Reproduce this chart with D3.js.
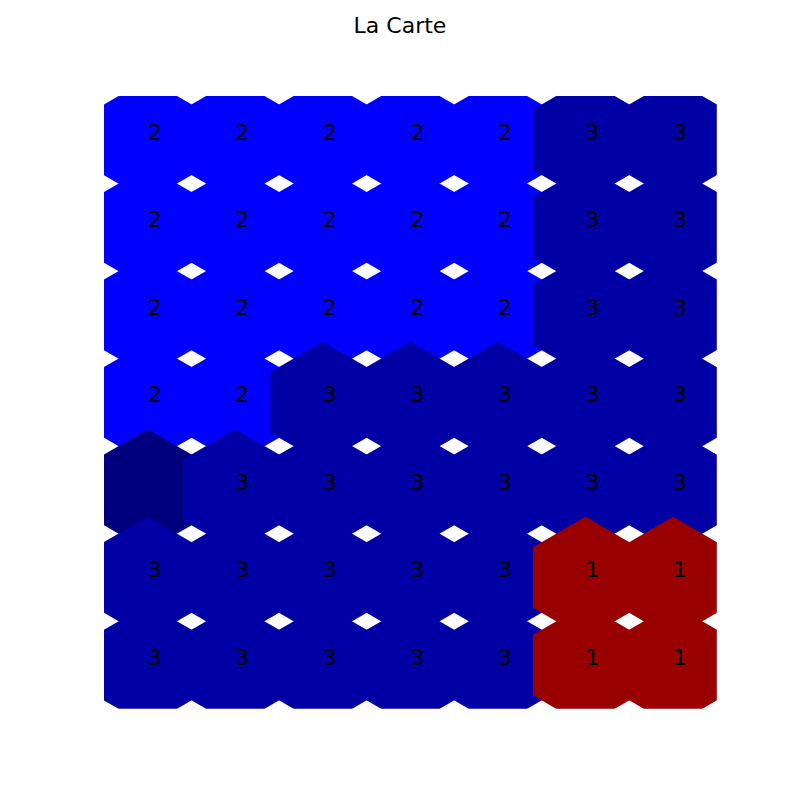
<!DOCTYPE html>
<html>
<head>
<meta charset="utf-8">
<script src="https://cdn.jsdelivr.net/npm/d3@7"></script>
<style>
  html, body { margin: 0; padding: 0; background: #fff; }
  svg { display: block; }
</style>
</head>
<body>
<svg id="chart" width="800" height="796"></svg>
<script>
// ---- data ----
const title = "La Carte";
const colIdx = [0, 1, 2, 3, 4, 5, 6];
const rowIdx = [0, 1, 2, 3, 4, 5, 6];
// winning class label per node (top row first); "" = no label
const nodeLabels = [
  ["2", "2", "2", "2", "2", "3", "3"],
  ["2", "2", "2", "2", "2", "3", "3"],
  ["2", "2", "2", "2", "2", "3", "3"],
  ["2", "2", "3", "3", "3", "3", "3"],
  ["",  "3", "3", "3", "3", "3", "3"],
  ["3", "3", "3", "3", "3", "1", "1"],
  ["3", "3", "3", "3", "3", "1", "1"]
];
const classes = ["1", "2", "3", ""];

// ---- layout ----
const svg = d3.select("#chart");
const plot = { left: 104, top: 96, size: 612.8 };
const x = d3.scaleLinear().domain([0, 7]).range([plot.left, plot.left + plot.size]);
const y = d3.scaleLinear().domain([0, 7]).range([plot.top, plot.top + plot.size]);
const color = d3.scaleOrdinal().domain(classes).range(["#990000", "#0000ff", "#0000a5", "#00007f"]);
const radius = 1.2 / Math.sqrt(3); // data units

svg.append("defs").append("clipPath").attr("id", "clip")
  .append("rect")
  .attr("x", x(0)).attr("y", y(0))
  .attr("width", x(7) - x(0)).attr("height", y(7) - y(0));

svg.append("text")
  .attr("x", 400).attr("y", 33.3)
  .attr("text-anchor", "middle")
  .attr("font-family", "DejaVu Sans")
  .attr("font-size", 22)
  .attr("fill", "#000")
  .text(title);

const cells = [];
rowIdx.forEach(r => colIdx.forEach(c => cells.push({ r, c, label: nodeLabels[r][c] })));

function hexPath(d) {
  const cx = d.c + 0.5, cy = d.r + 0.5;
  const pts = d3.range(6).map(k => {
    const a = Math.PI / 2 + k * Math.PI / 3;
    return [x(cx + radius * Math.cos(a)), y(cy - radius * Math.sin(a))];
  });
  return "M" + pts.map(p => p.join(",")).join("L") + "Z";
}

const g = svg.append("g").attr("clip-path", "url(#clip)");
g.selectAll("path.hex").data(cells).enter().append("path")
  .attr("class", "hex")
  .attr("d", hexPath)
  .attr("fill", d => color(d.label));

g.selectAll("text.lbl").data(cells.filter(d => d.label !== "")).enter().append("text")
  .attr("class", "lbl")
  .attr("x", d => x(d.c + 0.5))
  .attr("y", d => y(d.r + 0.5))
  .attr("font-family", "DejaVu Sans")
  .attr("font-size", 22)
  .attr("fill", "#000")
  .text(d => d.label);
</script>
</body>
</html>
